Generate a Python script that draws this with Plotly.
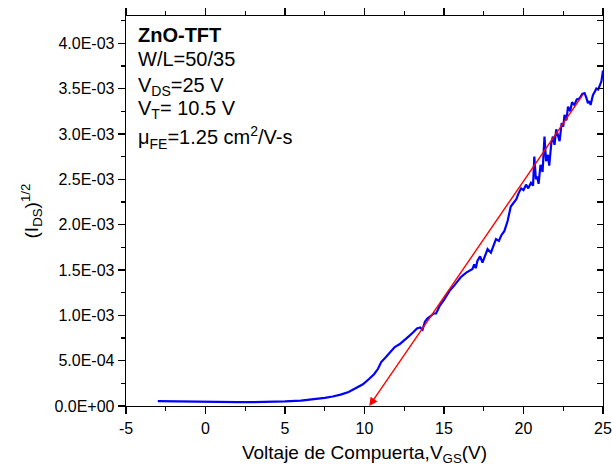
import plotly.graph_objects as go

# ---- data ----
vgs = [-3.0, -2.0, -1.0, 0.0, 1.0, 2.0, 3.0, 4.0, 5.0, 6.0, 6.8, 7.5, 8.0, 8.5, 9.0, 9.5, 9.9,
       10.3, 10.6, 10.85, 11.05, 11.35, 11.6, 11.9, 12.2, 12.5, 12.8, 13.05, 13.3, 13.5, 13.65,
       13.8, 13.95, 14.15, 14.35, 14.5, 14.75, 15.0, 15.35, 15.65, 16.05, 16.4, 16.79, 16.9,
       17.0, 17.1, 17.27, 17.42, 17.6, 17.74, 17.95, 18.1, 18.27, 18.45, 18.6, 18.8, 19.0,
       19.2, 19.4, 19.55, 19.7, 19.85, 20.0, 20.16, 20.3, 20.47, 20.6, 20.68, 20.78, 20.86,
       20.95, 21.07, 21.2, 21.32, 21.42, 21.53, 21.62, 21.75, 21.85, 21.95, 22.06, 22.17,
       22.27, 22.4, 22.5, 22.58, 22.7, 22.8, 22.94, 23.05, 23.2, 23.35, 23.52, 23.7, 23.84,
       23.95, 24.05, 24.15, 24.22, 24.3, 24.37, 24.5, 24.58, 24.7, 24.79, 24.9, 25.0]
ids_sqrt = [5.3e-5, 5.0e-5, 4.8e-5, 4.6e-5, 4.4e-5, 4.3e-5, 4.3e-5, 4.5e-5, 5.0e-5, 6.0e-5,
            7.3e-5, 9.0e-5, 1.05e-4, 1.25e-4, 1.55e-4, 2.0e-4, 2.4e-4,
            3.0e-4, 3.5e-4, 4.1e-4, 4.85e-4, 5.4e-4, 5.9e-4, 6.5e-4, 6.8e-4, 7.2e-4, 7.7e-4,
            8.1e-4, 8.55e-4, 8.65e-4, 8.4e-4,
            9.3e-4, 9.65e-4, 9.9e-4, 1.02e-3, 1.02e-3, 1.11e-3, 1.17e-3, 1.27e-3, 1.33e-3,
            1.42e-3, 1.47e-3, 1.51e-3, 1.56e-3,
            1.52e-3, 1.60e-3, 1.65e-3, 1.58e-3, 1.66e-3, 1.73e-3, 1.69e-3, 1.76e-3, 1.84e-3,
            1.82e-3, 1.88e-3, 1.93e-3, 2.04e-3,
            2.20e-3, 2.25e-3, 2.28e-3, 2.35e-3, 2.40e-3, 2.38e-3, 2.44e-3, 2.40e-3, 2.46e-3,
            2.43e-3, 2.75e-3, 2.50e-3, 2.53e-3,
            2.45e-3, 2.66e-3, 2.58e-3, 2.97e-3, 2.70e-3, 2.77e-3, 2.65e-3, 2.90e-3, 2.97e-3,
            2.88e-3, 3.05e-3, 2.98e-3,
            2.92e-3, 3.12e-3, 3.08e-3, 3.21e-3, 3.15e-3, 3.30e-3, 3.25e-3, 3.35e-3, 3.32e-3,
            3.38e-3, 3.39e-3, 3.44e-3, 3.45e-3,
            3.40e-3, 3.34e-3, 3.36e-3, 3.32e-3, 3.38e-3, 3.43e-3, 3.47e-3, 3.50e-3, 3.49e-3,
            3.54e-3, 3.58e-3, 3.70e-3]

# linear fit (red arrow): from upper end down to the x-intercept
fit_v = [23.8, 10.3]
fit_i = [3.45e-3, 0.0]

x_range = [-5, 25]
x_tickvals = [-5, 0, 5, 10, 15, 20, 25]
x_ticktext = ["-5", "0", "5", "10", "15", "20", "25"]

y_range = [0, 4.3e-3]
y_tickvals = [0, 5e-4, 1e-3, 1.5e-3, 2e-3, 2.5e-3, 3e-3, 3.5e-3, 4e-3]
y_ticktext = ["0.0E+00", "5.0E-04", "1.0E-03", "1.5E-03", "2.0E-03",
              "2.5E-03", "3.0E-03", "3.5E-03", "4.0E-03"]

info_lines = ["<b>ZnO-TFT</b>", "W/L=50/35", "V<sub>DS</sub>=25 V",
              "V<sub>T</sub>= 10.5 V", "\u03bc<sub>FE</sub>=1.25 cm<sup>2</sup>/V-s"]
info_ypix = [35, 59, 86, 109, 137]

x_title = "Voltaje de Compuerta,V<sub>GS</sub>(V)"
y_title = "(I<sub>DS</sub>)<sup>1/2</sup>"

# ---- figure ----
W, H = 612, 466
ML, MR, MT, MB = 126, 9, 16, 60
FONT = "Liberation Sans, Arial, sans-serif"

fig = go.Figure()
fig.add_trace(go.Scatter(x=vgs, y=ids_sqrt, mode="lines",
                         line=dict(color="#0000FF", width=2.2), showlegend=False,
                         hoverinfo="skip"))
# dummy trace to activate the right-side axis
fig.add_trace(go.Scatter(x=[None], y=[None], yaxis="y2", showlegend=False, hoverinfo="skip"))

# red fitted line with arrowhead at the x-intercept
fig.add_annotation(x=fit_v[1], y=fit_i[1], ax=fit_v[0], ay=fit_i[0],
                   xref="x", yref="y", axref="x", ayref="y", text="",
                   showarrow=True, arrowhead=2, arrowsize=1.2, arrowwidth=1.4,
                   arrowcolor="#FF0000", standoff=0, startstandoff=0)

plot_h = H - MT - MB
for txt, py in zip(info_lines, info_ypix):
    fig.add_annotation(x=(136 - ML) / (W - ML - MR), y=(H - MB - py) / plot_h,
                       xref="paper", yref="paper", text=txt, showarrow=False,
                       xanchor="left", yanchor="middle",
                       font=dict(family=FONT, size=20, color="black"))

axis_common = dict(showline=True, linecolor="black", linewidth=1.3, showgrid=False,
                   zeroline=False, tickcolor="black", tickwidth=1.3, automargin=False,
                   tickfont=dict(family=FONT, size=16, color="black"))

fig.update_layout(
    width=W, height=H, margin=dict(l=ML, r=MR, t=MT, b=MB, autoexpand=False),
    paper_bgcolor="white", plot_bgcolor="white",
    font=dict(family=FONT, color="black"),
    xaxis=dict(range=x_range, tickvals=x_tickvals, ticktext=x_ticktext,
               ticks="outside", ticklen=7, mirror="ticks",
               minor=dict(dtick=2.5, tick0=0, ticks="outside", ticklen=4,
                          tickcolor="black", tickwidth=1.3),
               title=dict(text=x_title, font=dict(family=FONT, size=19), standoff=13),
               **axis_common),
    yaxis=dict(range=y_range, tickvals=y_tickvals, ticktext=y_ticktext,
               ticks="outside", ticklen=7, mirror=True,
               minor=dict(dtick=2.5e-4, tick0=0, ticks="outside", ticklen=4,
                          tickcolor="black", tickwidth=1.3),
               title=dict(text=y_title, font=dict(family=FONT, size=19), standoff=10),
               **axis_common),
    yaxis2=dict(range=y_range, overlaying="y", side="right", anchor="x",
                showticklabels=False, showline=False, showgrid=False, zeroline=False,
                tickmode="linear", tick0=0, dtick=2.5e-4, automargin=False,
                ticks="inside", ticklen=6, tickcolor="black", tickwidth=1.3),
)

fig.write_html("out.html", config={"displayModeBar": False, "staticPlot": True},
               post_script="document.body.style.margin='0px';"
                           "document.body.style.overflow='hidden';")
